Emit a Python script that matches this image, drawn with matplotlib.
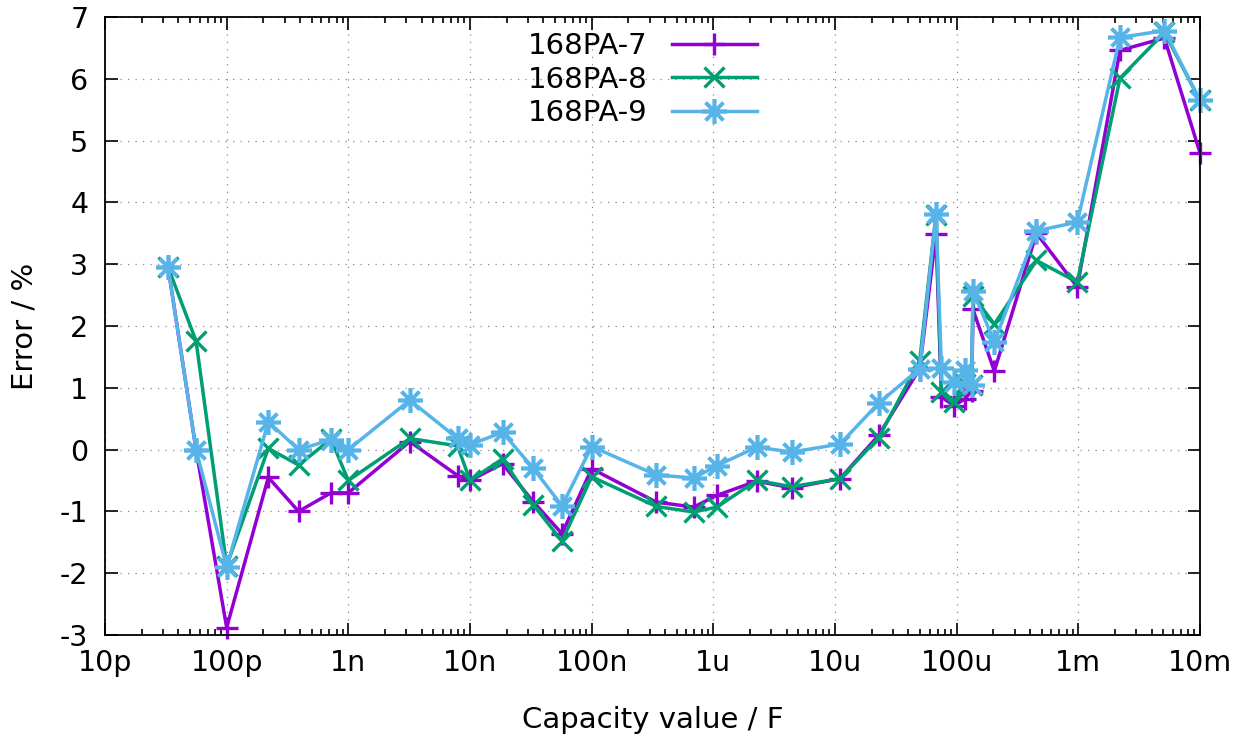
import matplotlib
matplotlib.use("Agg")
import matplotlib.pyplot as plt
import numpy as np
from matplotlib.ticker import FixedLocator, LogLocator, NullFormatter

# capacity values in F
cap = [33e-12, 56e-12, 100e-12, 220e-12, 390e-12, 720e-12, 1.0e-9,
       3.2e-9, 7.9e-9, 10e-9, 18.5e-9, 33e-9, 57e-9, 100e-9,
       340e-9, 690e-9, 1.07e-6, 2.27e-6, 4.4e-6, 11e-6, 22.8e-6,
       49.7e-6, 67.6e-6, 75e-6, 95e-6, 117e-6, 133e-6, 136e-6,
       204e-6, 453e-6, 0.98e-3, 2.2e-3, 5.1e-3, 10e-3]

err_pa7 = [2.95, 0.0, -2.88, -0.45, -1.0, -0.7, -0.7,
           0.13, -0.42, -0.5, -0.23, -0.84, -1.36, -0.31,
           -0.85, -0.93, -0.74, -0.51, -0.62, -0.47, 0.23,
           1.31, 3.49, 0.85, 0.71, 0.82, 0.95, 2.27,
           1.27, 3.5, 2.63, 6.46, 6.66, 4.8]

err_pa8 = [2.95, 1.76, -1.88, 0.02, -0.25, 0.17, -0.5,
           0.18, 0.06, -0.5, -0.15, -0.89, -1.48, -0.44,
           -0.92, -1.01, -0.93, -0.5, -0.6, -0.47, 0.19,
           1.44, 3.8, 0.93, 0.77, 1.06, 1.04, 2.49,
           2.03, 3.06, 2.71, 6.01, 6.75, 5.65]

err_pa9 = [2.95, 0.0, -1.9, 0.45, 0.0, 0.16, 0.0,
           0.8, 0.18, 0.08, 0.28, -0.3, -0.91, 0.05,
           -0.41, -0.46, -0.26, 0.04, -0.04, 0.09, 0.75,
           1.31, 3.81, 1.32, 1.09, 1.28, 1.04, 2.57,
           1.74, 3.54, 3.68, 6.67, 6.78, 5.65]

names = ["168PA-7", "168PA-8", "168PA-9"]
xtick_vals = [1e-11, 1e-10, 1e-9, 1e-8, 1e-7, 1e-6, 1e-5, 1e-4, 1e-3, 1e-2]
xtick_labels = ["10p", "100p", "1n", "10n", "100n", "1u", "10u", "100u", "1m", "10m"]
yticks = list(range(-3, 8))

plt.rcParams['font.family'] = ['DejaVu Sans']
plt.rcParams['font.size'] = 21
plt.rcParams['axes.unicode_minus'] = False

fig = plt.figure(figsize=(12.4, 7.37), dpi=100)
ax = fig.add_axes([105 / 1240, 102 / 737, 1095 / 1240, 618 / 737])

# gnuplot-ish point types: plus, cross, asterisk
styles = [("#9400D3", "+", 16, 2.4), ("#009E73", "x", 14, 2.4), ("#56B4E9", (8, 2, 0), 18, 2.6)]
for data, name, (col, mk, ms, mw) in zip([err_pa7, err_pa8, err_pa9], names, styles):
    ax.plot(cap, data, color=col, lw=2.5, marker=mk, ms=ms, mew=mw,
            label=name, clip_on=False)

ax.set_xscale("log")
ax.set_xlim(1e-11, 1e-2)
ax.set_ylim(-3, 7)
ax.xaxis.set_major_locator(FixedLocator(xtick_vals))
ax.set_xticklabels(xtick_labels)
ax.xaxis.set_minor_locator(LogLocator(base=10, subs=np.arange(2, 10), numticks=100))
ax.xaxis.set_minor_formatter(NullFormatter())
ax.set_yticks(yticks)

ax.tick_params(which="both", direction="in", top=True, right=True, width=1.2,
               labelsize=20.5)
ax.tick_params(which="major", length=9)
ax.tick_params(which="minor", length=4.5)
ax.tick_params(axis="x", pad=10)
ax.tick_params(axis="y", pad=12)
for s in ax.spines.values():
    s.set_linewidth(1.3)

ax.grid(True, which="major", color="#888888", lw=0.9, linestyle=(0, (1, 5)))

ax.set_xlabel("Capacity value / F", labelpad=21)
ax.set_ylabel("Error / %", labelpad=15)

ax.legend(loc="upper right", bbox_to_anchor=(0.595, 0.975), frameon=False,
          markerfirst=False, handlelength=2.9, handletextpad=0.85,
          labelspacing=0.18, borderpad=0, borderaxespad=0)

fig.savefig("out.png", dpi=100)
